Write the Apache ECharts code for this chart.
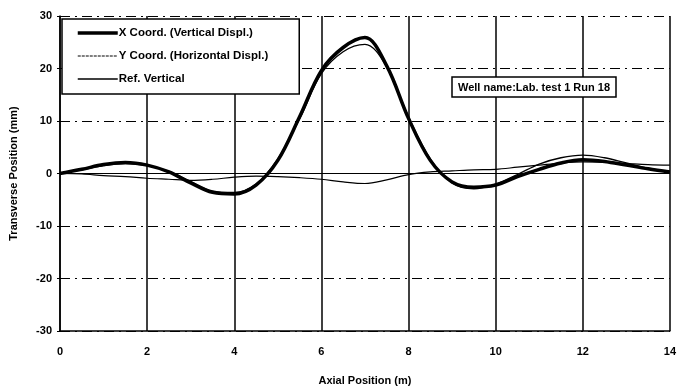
<!DOCTYPE html>
<html>
<head>
<meta charset="utf-8">
<script src="https://cdn.jsdelivr.net/npm/echarts@6/dist/echarts.min.js"></script>
<style>
  html, body { margin: 0; padding: 0; background: #fff; }
  #chart { width: 679px; height: 391px; }
</style>
</head>
<body>
<div id="chart"></div>
<script>
// axial position (m)
const axialPos = [0, 0.5, 1, 1.5, 2, 2.5, 3, 3.5, 4, 4.5, 5, 5.5, 6, 6.5, 7,
  7.5, 8, 8.5, 9, 9.5, 10, 10.5, 11, 11.5, 12, 12.5, 13, 13.5, 14]

// transverse position (mm)
const xCoord = [0, 0.8, 1.7, 2.1, 1.6, 0.3, -1.8, -3.6, -3.9, -2.2, 2.5, 10.8, 19.6, 24.0, 25.9,
  20.5, 10.5, 2.5, -1.6, -2.6, -2.2, -0.6, 0.8, 2.0, 2.6, 2.3, 1.6, 0.9, 0.3]
const yCoord = [0, -0.1, -0.4, -0.6, -0.9, -1.1, -1.3, -1.1, -0.7, -0.5, -0.6, -0.8, -1.1, -1.6, -1.9,
  -1.2, -0.2, 0.3, 0.5, 0.7, 0.8, 1.2, 1.6, 2.0, 2.2, 2.1, 1.9, 1.7, 1.6]
const refVertical = [0, 0.7, 1.5, 1.9, 1.5, 0.4, -1.5, -3.3, -3.6, -2.0, 2.8, 10.4, 19.0, 23.2, 24.6,
  20.3, 10.8, 2.8, -1.8, -2.9, -2.0, -0.2, 1.8, 3.0, 3.5, 3.0, 2.0, 1.0, 0.3]

const yTicks = { min: -30, max: 30, step: 10 }
const xTicks = { min: 0, max: 14, step: 2 }

const pair = (ys) => axialPos.map((x, i) => [x, ys[i]])

const chart = echarts.init(document.getElementById('chart'))
const font = 'Liberation Sans, Arial, sans-serif'

const option = {
  animation: false,
  backgroundColor: '#fff',
  title: {
    text: 'Well name:Lab. test 1 Run 18',
    left: 452,
    top: 77,
    padding: [5, 6, 4, 6],
    borderColor: '#000',
    borderWidth: 1.5,
    backgroundColor: '#fff',
    textStyle: { fontFamily: font, fontSize: 11, fontWeight: 'bold', color: '#000' }
  },
  legend: {
    orient: 'vertical',
    left: 62,
    top: 19,
    padding: [8, 31, 9, 14],
    itemGap: 11,
    itemWidth: 40,
    itemHeight: 12,
    backgroundColor: '#fff',
    borderColor: '#000',
    borderWidth: 1.5,
    itemStyle: { opacity: 0 },
    textStyle: { fontFamily: font, fontSize: 11.5, fontWeight: 'bold', color: '#000', padding: [0, 0, 0, -4] },
    data: [
      { name: 'X Coord. (Vertical Displ.)', lineStyle: { width: 3.5 } },
      { name: 'Y Coord. (Horizontal Displ.)', lineStyle: { width: 1, type: [3, 1] } },
      { name: 'Ref. Vertical', lineStyle: { width: 1.5 } }
    ]
  },
  grid: { left: 58, right: 6, top: 16, bottom: 55 },
  xAxis: {
    type: 'value',
    min: xTicks.min,
    max: xTicks.max,
    interval: xTicks.step,
    name: 'Axial Position (m)',
    nameLocation: 'middle',
    nameGap: 44,
    nameTextStyle: { fontFamily: font, fontSize: 11, fontWeight: 'bold', color: '#000' },
    axisLine: { onZero: false, lineStyle: { color: '#000', width: 1.5 } },
    axisTick: { show: false },
    axisLabel: { margin: 15, fontFamily: font, fontSize: 11, fontWeight: 'bold', color: '#000' },
    splitLine: { show: true, lineStyle: { color: '#000', width: 1.5 } }
  },
  yAxis: {
    type: 'value',
    min: yTicks.min,
    max: yTicks.max,
    interval: yTicks.step,
    name: 'Transverse Position (mm)',
    nameLocation: 'middle',
    nameGap: 41,
    nameTextStyle: { fontFamily: font, fontSize: 11, fontWeight: 'bold', color: '#000' },
    axisLine: { show: true, lineStyle: { color: '#000', width: 1.5 } },
    axisTick: { show: true, length: 3, lineStyle: { color: '#000' } },
    axisLabel: { margin: 8, fontFamily: font, fontSize: 11, fontWeight: 'bold', color: '#000' },
    splitLine: { show: true, lineStyle: { color: '#000', width: 1, type: [10, 5, 2, 5] } }
  },
  series: [
    {
      name: 'X Coord. (Vertical Displ.)',
      type: 'line',
      smooth: 0.35,
      symbol: 'none',
      data: pair(xCoord),
      lineStyle: { color: '#000', width: 3.5 },
      itemStyle: { color: '#000' },
      z: 5
    },
    {
      name: 'Y Coord. (Horizontal Displ.)',
      type: 'line',
      smooth: 0.35,
      symbol: 'none',
      data: pair(yCoord),
      lineStyle: { color: '#000', width: 1.2 },
      itemStyle: { color: '#000' },
      markLine: {
        silent: true,
        symbol: 'none',
        label: { show: false },
        lineStyle: { color: '#000', width: 1.2, type: 'solid' },
        data: [{ yAxis: 0 }]
      }
    },
    {
      name: 'Ref. Vertical',
      type: 'line',
      smooth: 0.35,
      symbol: 'none',
      data: pair(refVertical),
      lineStyle: { color: '#000', width: 1.3 },
      itemStyle: { color: '#000' }
    }
  ]
}

chart.setOption(option)
</script>
</body>
</html>
